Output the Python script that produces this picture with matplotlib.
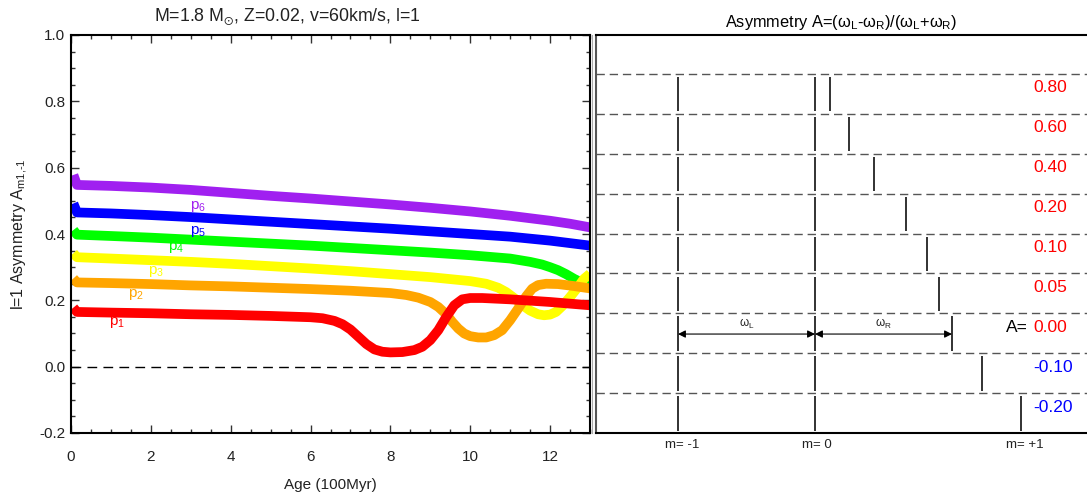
import matplotlib
matplotlib.use("Agg")
import matplotlib.pyplot as plt
from matplotlib.ticker import MultipleLocator, FormatStrFormatter
from matplotlib.lines import Line2D

plt.rcParams['font.family'] = ['Liberation Sans', 'DejaVu Sans']
plt.rcParams['mathtext.fontset'] = 'custom'
plt.rcParams['mathtext.rm'] = 'Liberation Sans'
plt.rcParams['mathtext.it'] = 'Liberation Sans'
plt.rcParams['mathtext.default'] = 'regular'
plt.rcParams['axes.unicode_minus'] = False
plt.rcParams['lines.scale_dashes'] = False

# ---------------- data: left panel (Age in 100 Myr, asymmetry) ----------------
p6_age = [0.06, 0.15, 1, 2, 3, 4, 5, 6, 7, 8, 9, 10, 11, 12, 12.5, 13]
p6_val = [0.578, 0.548, 0.545, 0.540, 0.533, 0.524, 0.515, 0.507, 0.498, 0.489,
          0.479, 0.468, 0.455, 0.440, 0.431, 0.420]

p5_age = [0.06, 0.15, 1, 2, 3, 4, 5, 6, 7, 8, 9, 10, 11, 12, 13]
p5_val = [0.492, 0.465, 0.462, 0.457, 0.451, 0.444, 0.437, 0.430, 0.423, 0.416,
          0.408, 0.400, 0.392, 0.380, 0.365]

p4_age = [0.06, 0.15, 1, 2, 3, 4, 5, 6, 7, 8, 9, 10, 11, 11.5, 11.8, 12.0, 12.2,
          12.4, 12.6, 12.8, 13]
p4_val = [0.412, 0.398, 0.394, 0.389, 0.383, 0.377, 0.371, 0.365, 0.358, 0.351,
          0.344, 0.336, 0.326, 0.316, 0.308, 0.300, 0.291, 0.279, 0.265, 0.253,
          0.243]

p3_age = [0.06, 0.15, 1, 2, 3, 4, 5, 6, 7, 8, 9, 10, 10.4, 10.7, 10.9, 11.1,
          11.3, 11.5, 11.7, 11.85, 12.0, 12.15, 12.3, 12.5, 12.7, 12.85, 13]
p3_val = [0.342, 0.330, 0.326, 0.321, 0.316, 0.310, 0.303, 0.296, 0.288, 0.279,
          0.270, 0.258, 0.250, 0.238, 0.225, 0.207, 0.186, 0.169, 0.158, 0.155,
          0.157, 0.165, 0.182, 0.210, 0.240, 0.265, 0.280]

p2_age = [0.06, 0.15, 1, 2, 3, 4, 5, 6, 7, 8, 8.4, 8.7, 9.0, 9.2, 9.4, 9.55,
          9.7, 9.85, 10.0, 10.2, 10.4, 10.6, 10.8, 11.0, 11.2, 11.4, 11.55, 11.7,
          11.9, 12.2, 12.6, 13]
p2_val = [0.266, 0.254, 0.252, 0.249, 0.245, 0.242, 0.238, 0.234, 0.229, 0.222,
          0.216, 0.208, 0.195, 0.180, 0.158, 0.135, 0.115, 0.100, 0.092, 0.088,
          0.088, 0.095, 0.110, 0.140, 0.175, 0.212, 0.235, 0.246, 0.250, 0.249,
          0.243, 0.236]

p1_age = [0.06, 0.15, 1, 2, 3, 4, 5, 6, 6.3, 6.6, 6.8, 7.0, 7.2, 7.4, 7.6, 7.8,
          8.0, 8.3, 8.6, 8.8, 9.0, 9.2, 9.4, 9.6, 9.8, 10.0, 10.3, 11, 12, 13]
p1_val = [0.178, 0.165, 0.163, 0.161, 0.158, 0.156, 0.153, 0.149, 0.146, 0.138,
          0.128, 0.112, 0.090, 0.068, 0.052, 0.045, 0.043, 0.044, 0.050, 0.060,
          0.080, 0.110, 0.150, 0.185, 0.203, 0.207, 0.207, 0.203, 0.195, 0.185]

series_names = ['p$_6$', 'p$_5$', 'p$_4$', 'p$_3$', 'p$_2$', 'p$_1$']
series_colors = ['#A020F0', '#0000FF', '#00FF00', '#FFFF00', '#FFA500', '#FF0000']
series_ages = [p6_age, p5_age, p4_age, p3_age, p2_age, p1_age]
series_vals = [p6_val, p5_val, p4_val, p3_val, p2_val, p1_val]
label_pos = [(3.18, 0.483), (3.18, 0.408), (2.64, 0.358), (2.14, 0.287),
             (1.64, 0.217), (1.14, 0.132)]

# ---------------- data: right panel (schematic) ----------------
A_values = [0.80, 0.60, 0.40, 0.20, 0.10, 0.05, 0.00, -0.10, -0.20]
A_labels = ['0.80', '0.60', '0.40', '0.20', '0.10', '0.05', '0.00', '-0.10', '-0.20']
omega_L = 1.0
m_labels = ['m= -1', 'm= 0', 'm= +1']

W, H = 1087, 496
fig = plt.figure(figsize=(W / 100, H / 100), dpi=100)

# ================= left panel =================
ax1 = fig.add_axes([71 / W, 63 / H, 519 / W, 398 / H])
for ages, vals, c in zip(series_ages, series_vals, series_colors):
    ax1.plot(ages, vals, color=c, lw=7.0, solid_capstyle='butt',
             solid_joinstyle='round')
for name, c, (lx, ly) in zip(series_names, series_colors, label_pos):
    ax1.text(lx, ly, name, color=c, fontsize=11, ha='center', va='center')

zl = ax1.axhline(0.0, color='black', lw=1.0)
zl.set_dashes([7, 4.5])

ax1.set_xlim(0, 13)
ax1.set_ylim(-0.2, 1.0)
ax1.xaxis.set_major_locator(MultipleLocator(2))
ax1.xaxis.set_minor_locator(MultipleLocator(0.5))
ax1.yaxis.set_major_locator(MultipleLocator(0.2))
ax1.yaxis.set_minor_locator(MultipleLocator(0.05))
ax1.yaxis.set_major_formatter(FormatStrFormatter('%.1f'))
ax1.tick_params(which='both', direction='in', top=True, right=True,
                color='#333333', labelcolor='#222222', labelsize=11)
ax1.tick_params(which='major', length=6, width=1.0)
ax1.tick_params(which='minor', length=3, width=1.0)
ax1.tick_params(axis='x', which='major', pad=12)
ax1.tick_params(axis='y', which='major', pad=4)
for s in ax1.spines.values():
    s.set_linewidth(1.5)
ax1.set_xlabel('Age (100Myr)', fontsize=11, color='#222222', labelpad=10)
ax1.set_ylabel(r'l=1 Asymmetry A$_{\text{m1,-1}}$', fontsize=11.5,
               color='#222222', labelpad=7)
fig.text(287 / W, 1 - 17 / H, r'M=1.8 M$_{\odot}$, Z=0.02, v=60km/s, l=1',
         fontsize=12.8, ha='center', va='center', color='#222222')

# ================= right panel =================
ax2 = fig.add_axes([596 / W, 63 / H, 491 / W, 398 / H])
nrow = len(A_values)
ax2.set_xlim((596 - 815) / 137, (1087 - 815) / 137)
ax2.set_ylim(0, 399 / 40)
ax2.set_xticks([])
ax2.set_yticks([])
ax2.spines['right'].set_visible(False)
for s in ax2.spines.values():
    s.set_linewidth(1.5)
ax2.spines['left'].set_color('#555555')

for k in range(1, nrow + 1):
    dl = ax2.axhline(k, color='#555555', lw=1.0)
    dl.set_dashes([6, 3.5])

for k, (A, lab) in enumerate(zip(A_values, A_labels)):
    bottom = nrow - 1 - k
    omega_R = omega_L * (1 - A) / (1 + A)
    xs = [-omega_L, 0.0, omega_R]
    ax2.vlines(xs, bottom + 0.06, bottom + 0.92, color='#222222', lw=1.3)
    col = 'red' if A >= 0 else 'blue'
    ax2.text(1.591, bottom + 0.65, lab, color=col, fontsize=12.5,
             ha='left', va='center')
    if A == 0.0:
        yc = bottom + 0.48
        ax2.annotate('', xy=(0, yc), xytext=(-omega_L, yc),
                     arrowprops=dict(arrowstyle='<|-|>', color='black', lw=0.8,
                                     shrinkA=0, shrinkB=0, mutation_scale=11))
        ax2.annotate('', xy=(omega_R, yc), xytext=(0, yc),
                     arrowprops=dict(arrowstyle='<|-|>', color='black', lw=0.8,
                                     shrinkA=0, shrinkB=0, mutation_scale=11))
        ax2.text(-omega_L / 2, yc + 0.08, r'$\omega_L$', fontsize=8.5,
                 ha='center', va='bottom', color='#222222')
        ax2.text(omega_R / 2, yc + 0.08, r'$\omega_R$', fontsize=8.5,
                 ha='center', va='bottom', color='#222222')
        ax2.text(1.555, bottom + 0.65, 'A=', color='black', fontsize=12.5,
                 ha='right', va='center')

for xm, lab in zip([-0.97, 0.015, 1.53], m_labels):
    ax2.text(xm, -0.3, lab, fontsize=9.5, ha='center', va='center',
             color='#222222', clip_on=False)

fig.text(841 / W, 1 - 22 / H,
         r'Asymmetry A=($\omega_L$-$\omega_R$)/($\omega_L$+$\omega_R$)',
         fontsize=11.8, ha='center', va='center', color='black')

# thin grey frame line between the panels
fig.add_artist(Line2D([592 / W, 592 / W], [63 / H, 1 - 35 / H],
                      color='#aaaaaa', lw=0.8))

fig.savefig('out.png', dpi=100)
